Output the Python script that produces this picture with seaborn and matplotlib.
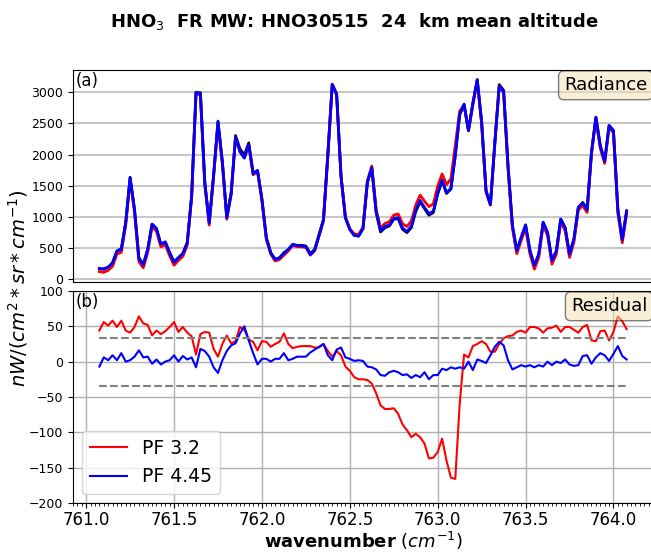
import numpy as np
import matplotlib
matplotlib.use('Agg')
import matplotlib.pyplot as plt
from matplotlib.ticker import MultipleLocator
import seaborn as sns

# spectral grid of the micro-window (0.025 cm-1 sampling)
wavenumber = np.round(761.075 + 0.025 * np.arange(121), 3)

# observed radiance, nW/(cm2 sr cm-1)
radiance_obs = [
    170, 170, 197, 268, 455, 493, 911, 1634, 1125, 348,
    241, 482, 884, 815, 562, 600, 428, 284, 348, 418,
    589, 1340, 2990, 2990, 1554, 911, 1661, 2519, 1876, 1002,
    1393, 2304, 2090, 1993, 2186, 1704, 1741, 1286, 670, 428,
    321, 348, 428, 482, 562, 546, 546, 535, 412, 482,
    723, 965, 2000, 3124, 2974, 1661, 991, 804, 707, 696,
    815, 1554, 1785, 1072, 761, 830, 857, 965, 975, 804,
    750, 830, 1088, 1243, 1136, 1029, 1072, 1367, 1581, 1377,
    1447, 1983, 2637, 2798, 2385, 2814, 3200, 2518, 1420, 1206,
    2197, 3119, 3028, 1822, 857, 455, 669, 868, 455, 214,
    402, 911, 750, 294, 455, 965, 830, 402, 643, 1152,
    1232, 1125, 2036, 2599, 2144, 1902, 2465, 2385, 1125, 643,
    1098,
]

# residuals (observed - simulated)
resid_pf32 = [
    44, 56, 51, 58, 49, 58, 44, 41, 49, 64,
    54, 52, 37, 44, 39, 43, 49, 56, 42, 49,
    41, 36, 10, 39, 42, 41, 18, 7, 25, 37,
    26, 29, 49, 45, 31, 28, 16, 29, 28, 21,
    25, 28, 40, 25, 19, 21, 22, 22, 22, 20,
    20, 25, 15, 7, 15, 9, -7, -13, -22, -25,
    -25, -26, -31, -45, -62, -67, -67, -66, -74, -89,
    -97, -107, -102, -107, -116, -137, -136, -128, -109, -140,
    -164, -166, -60, 10, 6, 22, 25, 29, 25, 14,
    14, 25, 33, 36, 37, 42, 44, 41, 49, 49,
    47, 41, 47, 48, 51, 42, 49, 49, 45, 41,
    49, 52, 30, 29, 43, 44, 30, 42, 64, 57,
    46,
]
resid_pf445 = [
    -7, 6, 2, 9, 2, 12, 0, 2, 7, 16,
    6, 7, -3, 3, -4, 0, 2, 9, 0, 8,
    3, 6, -8, 18, 15, 7, -8, -16, 2, 15,
    23, 26, 40, 50, 30, 12, -4, 4, 4, 0,
    4, 4, 12, 2, 4, 7, 7, 7, 13, 17,
    21, 25, 9, 2, 17, 20, 6, 4, 1, 2,
    1, -7, -8, -11, -19, -20, -15, -13, -15, -19,
    -18, -23, -19, -22, -15, -25, -19, -19, -10, -12,
    -8, -10, -8, -10, 0, -12, 3, 1, -2, 9,
    21, 28, 23, 2, -11, -8, -5, -7, -5, -8,
    -5, -7, 0, -5, 0, -2, 3, -4, -6, -5,
    8, 9, -3, 6, 12, 9, 1, 11, 22, 8,
    3,
]
noise_level = 34

obs = np.array(radiance_obs, dtype=float)
sim_pf32 = obs - np.array(resid_pf32)
sim_pf445 = obs - np.array(resid_pf445)

fig = plt.figure(figsize=(6.51, 5.54), dpi=100)
ax1 = fig.add_axes([0.1121, 0.4910, 0.8910, 0.3827])
ax2 = fig.add_axes([0.1121, 0.0921, 0.8910, 0.3827])

# (a) radiance
sns.lineplot(x=wavenumber, y=obs, ax=ax1, color='black', lw=2, legend=False)
sns.lineplot(x=wavenumber, y=sim_pf32, ax=ax1, color='red', lw=2, legend=False)
sns.lineplot(x=wavenumber, y=sim_pf445, ax=ax1, color='blue', lw=2, legend=False)
ax1.grid(axis='y', color='#c8c8c8', lw=1.5)
ax1.set_axisbelow(True)
ax1.yaxis.set_major_locator(MultipleLocator(500))
ax1.tick_params(axis='x', bottom=False, labelbottom=False)
ax1.tick_params(axis='y', labelsize=9)
ax1.text(0.005, 0.99, '(a)', transform=ax1.transAxes, fontsize=12, va='top')
ax1.text(0.99, 0.97, 'Radiance', transform=ax1.transAxes, fontsize=13,
         ha='right', va='top',
         bbox=dict(boxstyle='round', facecolor='wheat', alpha=0.5))

# (b) residual
sns.lineplot(x=wavenumber, y=resid_pf32, ax=ax2, color='red', lw=1.5, label='PF 3.2')
sns.lineplot(x=wavenumber, y=resid_pf445, ax=ax2, color='blue', lw=1.5, label='PF 4.45')
ax2.plot(wavenumber, np.full(len(wavenumber), noise_level), '--', color='gray', lw=1.5)
ax2.plot(wavenumber, np.full(len(wavenumber), -noise_level), '--', color='gray', lw=1.5)
ax2.set_ylim(-200, 100)
ax2.grid(True, color='#b0b0b0', lw=1)
ax2.set_axisbelow(True)
ax2.xaxis.set_major_locator(MultipleLocator(0.5))
ax2.xaxis.set_minor_locator(MultipleLocator(0.025))
ax2.yaxis.set_major_locator(MultipleLocator(50))
ax2.tick_params(axis='x', labelsize=12, pad=2)
ax2.tick_params(axis='y', labelsize=9)
ax2.text(0.005, 0.99, '(b)', transform=ax2.transAxes, fontsize=12, va='top')
ax2.text(0.99, 0.97, 'Residual', transform=ax2.transAxes, fontsize=13,
         ha='right', va='top',
         bbox=dict(boxstyle='round', facecolor='wheat', alpha=0.5))
ax2.legend(loc='lower left', fontsize=13.5)
ax2.set_xlabel(r'$\bf{wavenumber}$ $(cm^{-1})$', fontsize=13, labelpad=1)
ax2.set_ylabel('')

ax1.set_xlim(ax2.get_xlim())

fig.text(18 / 651, 1 - 288 / 554, r'$nW/(cm^2*sr*cm^{-1})$', rotation=90,
         ha='center', va='center', fontsize=14)
fig.text(354 / 651, 1 - 22 / 554, r'HNO$_3$  FR MW: HNO30515  24  km mean altitude',
         ha='center', va='center', fontsize=13, fontweight='bold')

fig.savefig('out.png', dpi=100)
